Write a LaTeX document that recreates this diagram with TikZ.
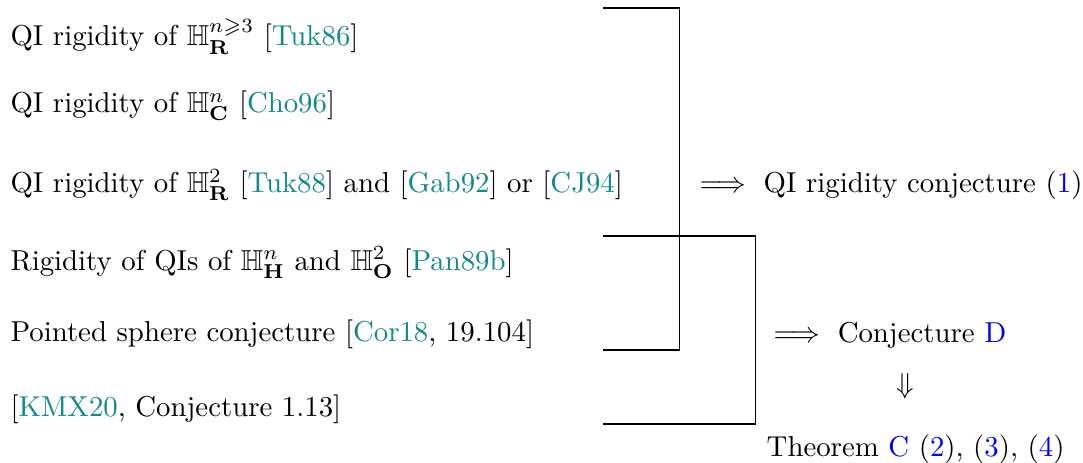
\documentclass[tikz,border=0pt]{standalone}
\usepackage{xcolor}
\usepackage{tikz}
\usepackage{amsmath}
\usepackage{amssymb}
\usetikzlibrary{
    calc,
    positioning
}
\definecolor{citeteal}{RGB}{18,138,138}
\tikzset{
    % Left column entries:
    item/.style = {
        anchor = base west,
        inner sep = 0pt
    },
    % Conclusions on the right:
    result/.style = {
        item
    }
}
\newcommand{\cit}[1]{\textcolor{citeteal}{#1}}
\newcommand{\lnk}[1]{\textcolor{blue}{#1}}

\begin{document}
\begin{tikzpicture}
            \useasboundingbox (0, 0) rectangle (13.21, 5.636);
            \node [item] (real) at (0.122, 5.075) {QI rigidity of $\mathbb{H}^{n\geqslant 3}_{\mathbf{R}}$ [\cit{Tuk86}]};
            \node [item] (complex) at (0.122, 4.258) {QI rigidity of $\mathbb{H}^{n}_{\mathbf{C}}$ [\cit{Cho96}]};
            \node [item] (plane) at (0.122, 3.282) {QI rigidity of $\mathbb{H}^{2}_{\mathbf{R}}$ [\cit{Tuk88}] and [\cit{Gab92}] or [\cit{CJ94}]};
            \node [item] (pansu) at (0.122, 2.342) {Rigidity of QIs of $\mathbb{H}^{n}_{\mathbf{H}}$ and $\mathbb{H}^{2}_{\mathbf{O}}$ [\cit{Pan89b}]};
            \node [item] (sphere) at (0.122, 1.476) {Pointed sphere conjecture [\cit{Cor18}, 19.104]};
            \node [item] (kmx) at (0.122, 0.561) {[\cit{KMX20}, Conjecture 1.13]};
            % First bracket.
            \draw (7.357, 5.539) -- ++(0.927, 0) -- ++(0, -4.173) -- ++(-0.927, 0);
            % Second bracket.
            \draw (7.357, 2.757) -- ++(1.854, 0) -- ++(0, -2.293) -- ++(-1.854, 0);
            \node [result] (qiconj) at (8.43, 3.282) {$\implies$ QI rigidity conjecture (\lnk{1})};
            \node [result] (conjD) at (9.333, 1.464) {$\implies$ Conjecture \lnk{D}};
            \node (down) at (11.04, 0.927) {$\Downarrow$};
            \node [result] (thmC) at (9.345, 0.073) {Theorem \lnk{C} (\lnk{2}), (\lnk{3}), (\lnk{4})};
        \end{tikzpicture}
\end{document}
